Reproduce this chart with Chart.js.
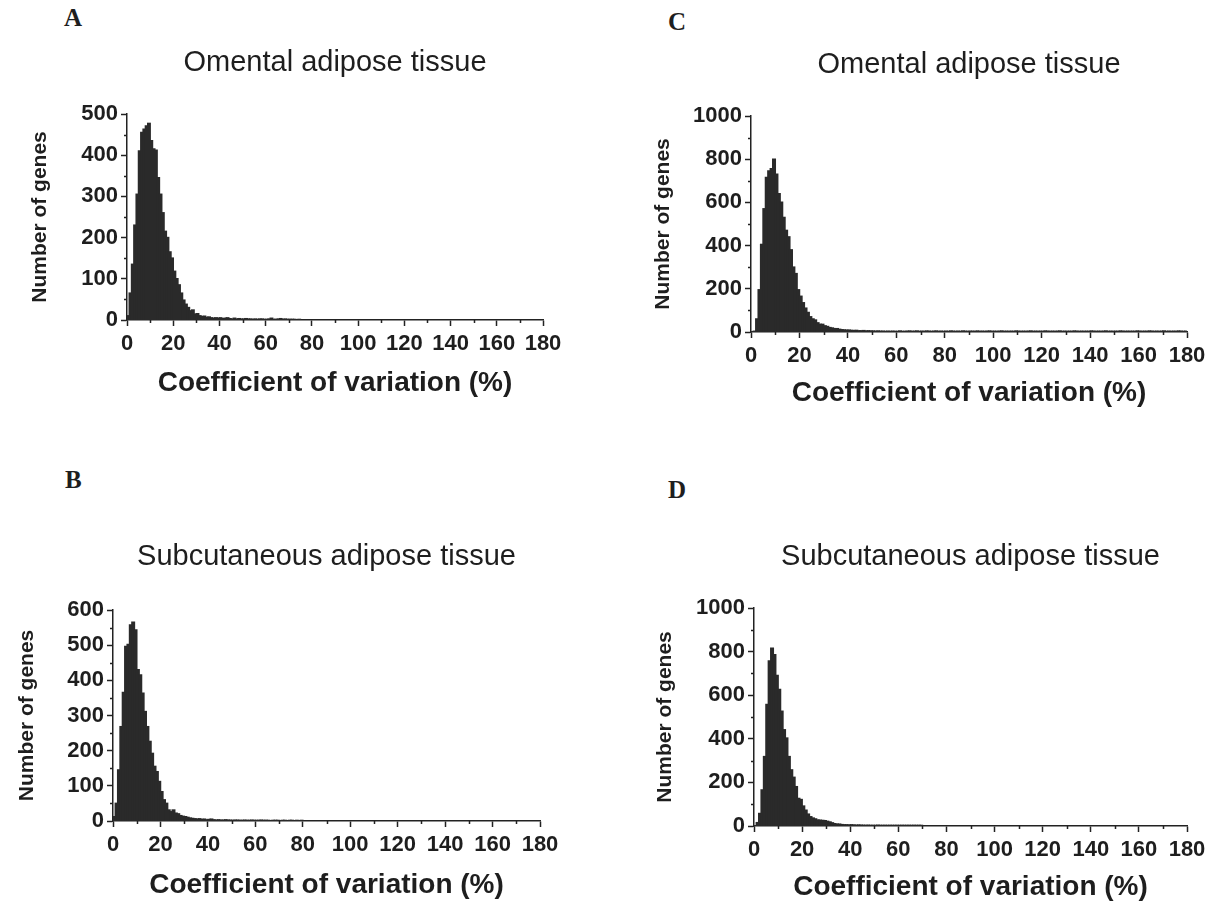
<!DOCTYPE html>
<html>
<head>
<meta charset="utf-8">
<script src="https://cdn.jsdelivr.net/npm/chart.js@4.4.1/dist/chart.umd.min.js"></script>
<style>
  body { margin: 0; background: #fff; width: 1219px; height: 906px; position: relative; overflow: hidden; }
  canvas { position: absolute; }
  .letter { position: absolute; font-family: "Liberation Serif", "Times New Roman", serif; font-weight: bold; font-size: 25px; color: #1e1e1e; }
</style>
</head>
<body>
<div class="letter" style="left:64px;top:4px">A</div>
<div class="letter" style="left:668px;top:8px">C</div>
<div class="letter" style="left:65px;top:466px">B</div>
<div class="letter" style="left:668px;top:476px">D</div>
<canvas id="chartA"></canvas>
<canvas id="chartB"></canvas>
<canvas id="chartC"></canvas>
<canvas id="chartD"></canvas>
<script>
// x axis: coefficient of variation (%), 1% bins
var cvTicks = [0, 20, 40, 60, 80, 100, 120, 140, 160, 180];
var cvMinorTicks = [10, 30, 50, 70, 90, 110, 130, 150, 170];

// y axis ticks
var countTicks500 = [0, 100, 200, 300, 400, 500];
var countMinor500 = [50, 150, 250, 350, 450];
var countTicks600 = [0, 100, 200, 300, 400, 500, 600];
var countMinor600 = [50, 150, 250, 350, 450, 550];
var countTicks1000 = [0, 200, 400, 600, 800, 1000];
var countMinor1000 = [100, 300, 500, 700, 900];

// number of genes per 1% bin, starting at 0-1%
var omentalA = [
  10, 65, 135, 230, 305, 410, 455, 463, 471, 477, 435, 415, 412, 345, 305, 260, 215, 200, 165, 150,
  118, 100, 85, 65, 48, 38, 30, 22, 24, 14, 15, 10, 8, 9, 6, 7, 5, 4, 5, 4,
  5, 3, 4, 5, 3, 2, 4, 2, 3, 2, 2, 3, 2, 2, 1, 2, 1, 2, 2, 1,
  1, 2, 4, 1, 1, 2, 3, 1, 2, 1, 1, 1, 1, 0, 1
];
var subcutaneousB = [
  12, 50, 145, 268, 365, 496, 502, 557, 565, 543, 430, 415, 363, 311, 268, 226, 192, 155, 140, 112,
  83, 60, 50, 31, 26, 31, 22, 20, 15, 13, 12, 10, 8, 7, 6, 5, 6, 4, 5, 3,
  4, 5, 3, 2, 3, 2, 2, 3, 2, 2, 1, 2, 2, 1, 1, 2, 1, 1, 2, 1,
  1, 1, 2, 1, 1, 1, 0, 1, 1, 1, 0, 1, 1, 0, 1, 1, 0, 1, 0, 1
];
var omentalC = [
  0, 3, 60, 195, 405, 570, 715, 745, 755, 800, 730, 640, 600, 530, 470, 440, 380, 300, 270, 195,
  165, 135, 110, 90, 70, 60, 55, 42, 35, 35, 28, 25, 20, 18, 15, 15, 12, 10, 9, 8,
  8, 7, 6, 7, 5, 5, 6, 4, 5, 4, 4, 3, 4, 3, 3, 2, 3, 2, 3, 2,
  2, 4, 2, 2, 3, 4, 2, 3, 4, 2, 3, 2, 4, 3, 2, 3, 4, 2, 3, 2,
  3, 2, 4, 3, 2, 3, 2, 4, 3, 2, 3, 3, 2, 4, 2, 3, 2, 3, 4, 2,
  3, 2, 3, 4, 2, 3, 2, 3, 2, 4, 3, 2, 3, 2, 3, 4, 2, 3, 2, 3,
  2, 4, 3, 2, 3, 2, 3, 4, 2, 3, 2, 3, 2, 4, 3, 2, 3, 2, 3, 2,
  4, 3, 2, 3, 2, 3, 4, 2, 3, 2, 3, 2, 4, 3, 2, 3, 2, 3, 2, 4,
  3, 2, 3, 2, 4, 3, 2, 3, 2, 3, 4, 2, 3, 2, 3, 2, 4, 3, 2, 3
];
var subcutaneousD = [
  0, 15, 57, 165, 318, 557, 757, 815, 785, 690, 626, 526, 441, 403, 318, 257, 223, 180, 126, 121,
  91, 72, 54, 42, 36, 32, 27, 26, 25, 24, 21, 18, 14, 10, 8, 8, 6, 5, 5, 4,
  5, 4, 3, 4, 3, 3, 2, 3, 2, 2, 2, 3, 2, 2, 1, 2, 2, 1, 2, 1,
  1, 2, 1, 1, 2, 1, 1, 1, 2, 1
];

var fontFamily = '"Liberation Sans", Arial, Helvetica, sans-serif';
var textColor = '#1e1e1e';
var axisColor = '#222222';
var barColor = '#2a2a2a';

// small ticks between the labelled ones
var minorTicksPlugin = {
  id: 'minorTicks',
  afterDraw: function (chart, args, opts) {
    var ctx = chart.ctx, x = chart.scales.x, y = chart.scales.y;
    ctx.save();
    ctx.strokeStyle = axisColor;
    ctx.lineWidth = 1.5;
    ctx.beginPath();
    opts.x.forEach(function (v) {
      var px = Math.round(x.getPixelForValue(v)) + 0.5;
      ctx.moveTo(px, y.bottom);
      ctx.lineTo(px, y.bottom + 3);
    });
    opts.y.forEach(function (v) {
      var py = Math.round(y.getPixelForValue(v)) + 0.5;
      ctx.moveTo(x.left, py);
      ctx.lineTo(x.left - 3, py);
    });
    ctx.stroke();
    ctx.restore();
  }
};

var panels = [
  { id: 'chartA', title: 'Omental adipose tissue', values: omentalA,
    yMax: 500, yTicks: countTicks500, yMinor: countMinor500,
    canvas: { x: 0, y: 30, w: 600, h: 400 }, plot: { left: 127, right: 543, top: 114, bottom: 320 },
    titleY: 63, xTitleY: 383, yTitleX: 40 },
  { id: 'chartB', title: 'Subcutaneous adipose tissue', values: subcutaneousB,
    yMax: 600, yTicks: countTicks600, yMinor: countMinor600,
    canvas: { x: 0, y: 500, w: 600, h: 406 }, plot: { left: 113, right: 540, top: 610, bottom: 821 },
    titleY: 557, xTitleY: 885, yTitleX: 27 },
  { id: 'chartC', title: 'Omental adipose tissue', values: omentalC,
    yMax: 1000, yTicks: countTicks1000, yMinor: countMinor1000,
    canvas: { x: 610, y: 30, w: 609, h: 400 }, plot: { left: 751, right: 1187, top: 116, bottom: 332 },
    titleY: 65, xTitleY: 393, yTitleX: 663 },
  { id: 'chartD', title: 'Subcutaneous adipose tissue', values: subcutaneousD,
    yMax: 1000, yTicks: countTicks1000, yMinor: countMinor1000,
    canvas: { x: 610, y: 500, w: 609, h: 406 }, plot: { left: 754, right: 1187, top: 608, bottom: 826 },
    titleY: 557, xTitleY: 887, yTitleX: 665 }
];

var titleFont = { family: fontFamily, size: 29, weight: 'normal', lineHeight: 1.2 };
var xTitleFont = { family: fontFamily, size: 28, weight: 'bold', lineHeight: 1.2 };
var yTitleFont = { family: fontFamily, size: 21, weight: 'bold', lineHeight: 1.2 };
var tickFont = { family: fontFamily, size: 22, weight: 'bold' };

panels.forEach(function (p) {
  var c = p.canvas, a = p.plot;
  var el = document.getElementById(p.id);
  el.width = c.w;
  el.height = c.h;
  el.style.left = c.x + 'px';
  el.style.top = c.y + 'px';

  new Chart(el, {
    type: 'bar',
    data: {
      datasets: [{
        data: p.values.map(function (v, i) { return { x: i + 0.5, y: v }; }),
        backgroundColor: barColor,
        borderWidth: 0,
        inflateAmount: 0.8,
        barPercentage: 1,
        categoryPercentage: 1,
        xAxisID: 'x',
        yAxisID: 'y'
      }]
    },
    options: {
      responsive: false,
      animation: false,
      layout: { padding: { left: 0, top: 0, bottom: 0, right: c.x + c.w - a.right } },
      plugins: {
        legend: { display: false },
        tooltip: { enabled: false },
        minorTicks: { x: cvMinorTicks, y: p.yMinor }
      },
      scales: {
        x: {
          type: 'linear', position: 'bottom', min: 0, max: 180, offset: false,
          grid: { display: true, drawOnChartArea: false, drawTicks: true, tickLength: 6, tickWidth: 1.5, tickColor: axisColor, offset: false },
          border: { display: true, color: axisColor, width: 1.5 },
          ticks: { font: tickFont, color: textColor, padding: 5, autoSkip: false, maxRotation: 0,
                   callback: function (v) { return String(v); } },
          afterBuildTicks: function (s) { s.ticks = cvTicks.map(function (v) { return { value: v }; }); },
          title: { display: true, text: 'Coefficient of variation (%)', font: xTitleFont, color: textColor,
                   padding: { top: 0, bottom: c.y + c.h - p.xTitleY - xTitleFont.size * 0.6 } },
          afterFit: function (s) { s.height = c.y + c.h - a.bottom; }
        },
        xt: {
          type: 'linear', position: 'top', min: 0, max: 180,
          grid: { display: false }, border: { display: false }, ticks: { display: false },
          title: { display: true, text: p.title, font: titleFont, color: textColor,
                   padding: { top: p.titleY - c.y - titleFont.size * 0.6, bottom: 0 } },
          afterFit: function (s) { s.height = a.top - c.y; }
        },
        y: {
          type: 'linear', position: 'left', min: 0, max: p.yMax,
          grid: { display: true, drawOnChartArea: false, drawTicks: true, tickLength: 6, tickWidth: 1.5, tickColor: axisColor },
          border: { display: true, color: axisColor, width: 1.5 },
          ticks: { font: tickFont, color: textColor, padding: 3,
                   callback: function (v) { return String(v); } },
          afterBuildTicks: function (s) { s.ticks = p.yTicks.map(function (v) { return { value: v }; }); },
          title: { display: true, text: 'Number of genes', font: yTitleFont, color: textColor,
                   padding: { top: p.yTitleX - c.x - yTitleFont.size * 0.6, bottom: 0 } },
          afterFit: function (s) { s.width = a.left - c.x; }
        }
      }
    },
    plugins: [minorTicksPlugin]
  });
});
</script>
</body>
</html>
